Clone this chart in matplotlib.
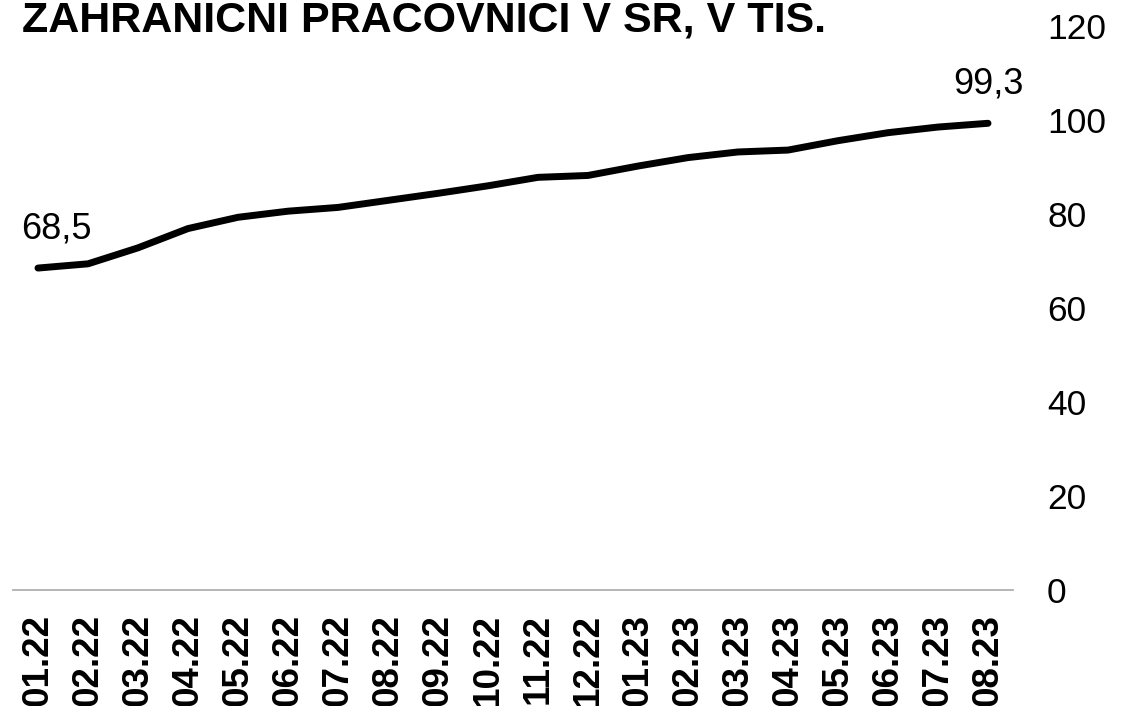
import numpy as np
import matplotlib.pyplot as plt

plt.rcParams['font.family'] = ['Liberation Sans', 'DejaVu Sans']

# data
months = ['01.22', '02.22', '03.22', '04.22', '05.22', '06.22', '07.22', '08.22',
          '09.22', '10.22', '11.22', '12.22', '01.23', '02.23', '03.23', '04.23',
          '05.23', '06.23', '07.23', '08.23']
workers = [68.5, 69.4, 72.8, 76.9, 79.3, 80.6, 81.4, 82.9, 84.4, 86.0,
           87.8, 88.2, 90.2, 92.0, 93.2, 93.6, 95.6, 97.3, 98.5, 99.3]
yticks = [0, 20, 40, 60, 80, 100, 120]
title = 'ZAHRANICNI PRACOVNICI V SR, V TIS.'

fig = plt.figure(figsize=(11.39, 7.06), dpi=100)
ax = fig.add_axes([13 / 1139, 116 / 706, 1000 / 1139, 564 / 706])

x = np.arange(len(months))
ax.plot(x, workers, color='black', lw=5, solid_capstyle='round', solid_joinstyle='round')

# popisky prvej a poslednej hodnoty
ax.annotate('68,5', (x[0], workers[0]), xytext=(13.5, 28), textcoords='offset points',
            ha='center', va='center', fontsize=26)
ax.annotate('99,3', (x[-1], workers[-1]), xytext=(0, 28), textcoords='offset points',
            ha='center', va='center', fontsize=26)

ax.set_xlim(-0.5, len(months) - 0.5)
ax.set_ylim(0, 120)
ax.set_xticks(x)
ax.set_xticklabels(months, rotation=90, fontsize=26.5, fontweight='bold', va='top')
ax.set_yticks(yticks)
ax.set_yticklabels([str(v) for v in yticks], fontsize=25.5)
ax.yaxis.tick_right()
ax.tick_params(axis='y', length=0, pad=24.5)
ax.tick_params(axis='x', length=0, pad=17)

for s in ['top', 'left', 'right']:
    ax.spines[s].set_visible(False)
ax.spines['bottom'].set_color('#b0b0b0')
ax.spines['bottom'].set_linewidth(1.3)

fig.text(22 / 1139, 1 - 31 / 706, title, fontsize=31, fontweight='bold', va='baseline', ha='left')

fig.savefig('out.png', dpi=100)
